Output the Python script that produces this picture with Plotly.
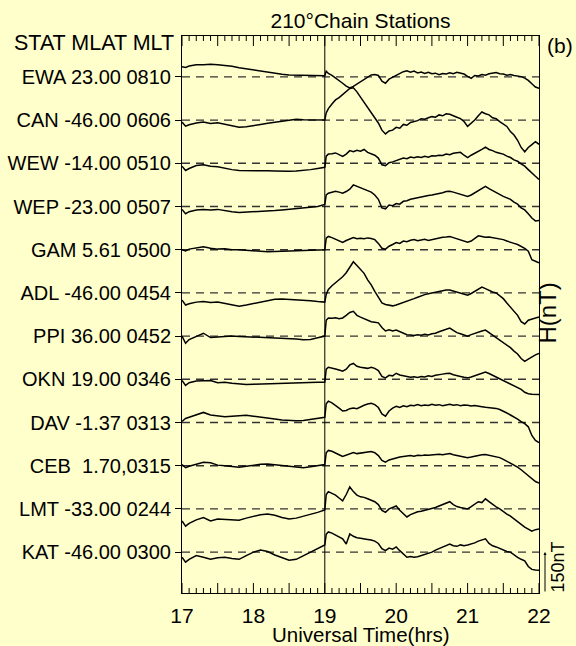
import plotly.graph_objects as go

# ---------------- data (H perturbation in nT, relative to each station's baseline) -------------
stations = ["EWA", "CAN", "WEW", "WEP", "GAM", "ADL", "PPI", "OKN", "DAV", "CEB", "LMT", "KAT"]
labels = ["EWA 23.00 0810", "CAN -46.00 0606", "WEW -14.00 0510", "WEP -23.00 0507",
          "GAM 5.61 0500", "ADL -46.00 0454", "PPI 36.00 0452", "OKN 19.00 0346",
          "DAV -1.37 0313", "CEB  1.70,0315", "LMT -33.00 0244", "KAT -46.00 0300"]
offset_step = 150  # nT between station baselines

# sampling times (UT hours), shared by all stations
t_ut = [17.0, 17.05, 17.1, 17.2, 17.3, 17.4, 17.5, 17.6, 17.7, 17.8, 17.9,
        18.0, 18.1, 18.2, 18.3, 18.4, 18.5, 18.6, 18.7, 18.8, 18.9,
        19.0, 19.02, 19.05, 19.1, 19.15, 19.2, 19.25, 19.3, 19.35, 19.4, 19.45, 19.5, 19.55, 19.6,
        19.65, 19.7, 19.75, 19.8, 19.85, 19.9, 19.95,
        20.0, 20.05, 20.1, 20.15, 20.2, 20.25, 20.3, 20.35, 20.4, 20.45, 20.5, 20.55, 20.6, 20.65,
        20.7, 20.75, 20.8, 20.85, 20.9, 20.95,
        21.0, 21.05, 21.1, 21.15, 21.2, 21.25, 21.3, 21.35, 21.4, 21.45, 21.5, 21.55, 21.6, 21.65,
        21.7, 21.75, 21.8, 21.85, 21.9, 21.95,
        22.0]

h_EWA = ([35, 33, 38, 42, 42, 44, 42, 40, 37, 32, 28, 24, 20, 16, 12, 9, 7, 6, 5, 5, 4]
         + [4, 20, 12, 5, -3, -12, -22, -32, -38, -33, -25, -18, -8, 0, 7, 8, 5, -15, -22, -8, -2]
         + [5, 12, 18, 21, 16, 20, 14, 17, 12, 16, 11, 13, 8, 12, 10, 14, 11, 16, 13, 10]
         + [2, -5, 5, 3, 8, 6, 11, 13, 15, 11, 10, 6, 8, 5, 3, 1, -4, -12, -24, -35]
         + [-40])
h_CAN = ([-7, -21, -16, -10, -7, -12, -9, -15, -20, -25, -23, -20, -15, -11, -7, -4, -1, 3, 1, 0, 0]
         + [0, 25, 40, 56, 70, 78, 88, 100, 110, 112, 98, 80, 62, 45, 28, 10, -10, -35, -48, -38, -35]
         + [-25, -28, -15, -18, -8, -5, -2, 5, 3, 8, 12, 10, 18, 15, 22, 20, 14, 10, 5, -5]
         + [-22, -12, 0, 15, 28, 22, 18, 8, 5, -5, -14, -22, -40, -52, -70, -95, -110, -95, -85, -75]
         + [-84])
h_WEW = ([-10, -25, -18, -8, -5, -10, -12, -18, -22, -25, -25, -24, -25, -26, -27, -28, -28, -27, -25, -22, -18]
         + [-14, 25, 32, 33, 36, 30, 24, 32, 44, 40, 45, 42, 48, 38, 32, 28, 18, -5, -8, 2, 5]
         + [10, 14, 18, 16, 22, 19, 23, 20, 24, 21, 26, 25, 28, 27, 32, 30, 35, 37, 38, 28]
         + [20, 28, 34, 40, 48, 56, 48, 44, 38, 35, 32, 25, 20, 12, 7, -2, -10, -22, -32, -45]
         + [-56])
h_WEP = ([-10, -25, -18, -12, -10, -12, -10, -15, -18, -21, -20, -18, -18, -16, -14, -12, -10, -8, -5, -3, 0]
         + [7, 40, 46, 50, 53, 50, 46, 52, 60, 75, 70, 63, 58, 55, 50, 40, 25, -5, -8, 5, 3]
         + [10, 8, 18, 20, 25, 28, 30, 33, 35, 38, 40, 42, 45, 48, 52, 53, 50, 46, 42, 38]
         + [35, 40, 48, 53, 62, 70, 62, 55, 49, 42, 35, 30, 25, 15, 8, -5, -12, -25, -40, -50]
         + [-49])
h_GAM = ([0, -4, 2, 6, 10, 5, 2, 3, 0, 0, -2, -4, -5, -7, -6, -5, -4, -4, -3, -2, -1]
         + [0, 40, 46, 42, 36, 30, 25, 32, 38, 42, 38, 40, 38, 41, 39, 35, 22, 5, 2, 12, 18]
         + [25, 22, 30, 28, 33, 35, 31, 34, 36, 32, 35, 36, 40, 43, 44, 46, 42, 38, 35, 30]
         + [26, 30, 38, 48, 46, 43, 44, 42, 40, 38, 35, 30, 27, 22, 18, 12, 5, -5, -35, -40]
         + [-46])
h_ADL = ([-25, -42, -38, -32, -30, -33, -32, -36, -40, -46, -42, -37, -30, -26, -22, -21, -22, -24, -25, -27, -30]
         + [-32, -5, 12, 25, 35, 45, 56, 70, 90, 108, 95, 80, 68, 45, 28, 5, -15, -35, -40, -42, -45]
         + [-42, -38, -32, -28, -24, -20, -15, -10, -6, -3, 0, 3, 6, 8, 10, 10, 6, 2, -2, -6]
         + [-8, -2, 5, 12, 20, 15, 8, 3, 0, -10, -20, -35, -50, -62, -78, -100, -108, -95, -92, -88]
         + [-84])
h_PPI = ([0, -25, -12, 0, 10, -5, -3, -2, 0, -1, -2, -3, -4, -4, -5, -6, -7, -10, -13, -12, -6]
         + [0, 55, 63, 62, 64, 60, 63, 72, 82, 86, 72, 66, 60, 55, 50, 48, 46, 30, 18, 22, 18]
         + [21, 15, 10, 5, 4, 2, 5, 3, 6, 4, 8, 10, 15, 20, 25, 28, 20, 12, 8, 4]
         + [0, 5, 10, 14, 18, 21, 12, 5, -5, -14, -21, -30, -40, -52, -62, -78, -88, -80, -72, -65]
         + [-60])
h_OKN = ([-4, -21, -12, -6, -5, -4, -12, -10, -14, -16, -18, -17, -16, -15, -14, -14, -13, -12, -12, -11, -10]
         + [-10, 35, 42, 40, 36, 32, 28, 35, 50, 55, 45, 42, 40, 38, 42, 38, 30, 10, 5, 14, 12]
         + [21, 15, 12, 8, 7, 9, 6, 10, 8, 12, 10, 14, 15, 18, 20, 21, 16, 12, 10, 7]
         + [5, 8, 12, 18, 22, 25, 20, 14, 8, 2, -4, -10, -15, -22, -28, -35, -45, -50, -52, -53]
         + [-53])
h_DAV = ([4, 14, 18, 26, 35, 26, 22, 20, 22, 24, 25, 22, 18, 15, 12, 9, 7, 6, 7, 10, 14]
         + [18, 65, 74, 68, 60, 50, 40, 42, 48, 50, 48, 55, 60, 64, 67, 62, 52, 30, 22, 40, 50]
         + [56, 52, 58, 55, 60, 58, 62, 58, 61, 59, 63, 60, 62, 58, 61, 63, 60, 62, 58, 61]
         + [60, 57, 59, 56, 55, 53, 52, 50, 49, 45, 40, 33, 26, 20, 12, 3, -4, -15, -45, -62]
         + [-70])
h_CEB = ([4, -7, -2, 5, 12, 10, 2, 0, -3, -5, -2, 2, 5, 6, 3, 0, -3, -6, -7, -4, 0]
         + [4, 45, 53, 50, 45, 38, 32, 36, 42, 46, 42, 44, 46, 48, 49, 45, 35, 18, 12, 20, 24]
         + [28, 30, 32, 34, 35, 33, 36, 35, 37, 36, 38, 39, 40, 38, 41, 42, 38, 35, 33, 30]
         + [28, 30, 33, 36, 38, 39, 36, 34, 32, 28, 22, 15, 10, 4, -5, -14, -24, -35, -45, -55]
         + [-60])
h_LMT = ([-42, -60, -50, -38, -30, -42, -35, -36, -38, -39, -32, -25, -20, -18, -22, -30, -35, -32, -26, -20, -12]
         + [-4, 50, 60, 55, 48, 38, 28, 50, 76, 60, 48, 42, 40, 35, 30, 25, 15, -5, -12, 0, 5]
         + [10, -5, -18, -28, -20, -15, -10, -8, -5, -2, 0, 5, 10, 15, 20, 25, 15, 8, 5, 2]
         + [0, 8, 15, 25, 22, 35, 25, 15, 7, 0, -10, -18, -25, -35, -45, -55, -63, -70, -77, -72]
         + [-70])
h_KAT = ([-18, -35, -25, -12, -18, -25, -20, -18, -22, -25, -12, 0, 7, 2, -10, -20, -28, -25, -12, 0, 12]
         + [25, 62, 70, 66, 60, 52, 46, 28, 63, 55, 50, 48, 45, 44, 42, 38, 30, 12, 5, 14, 10]
         + [18, 5, -8, -18, -15, -18, -16, -12, -8, -4, 0, 7, 12, 18, 24, 28, 22, 20, 25, 22]
         + [25, 28, 32, 38, 42, 46, 30, 22, 18, 12, 8, 2, 0, -10, -18, -25, -30, -50, -60, -62]
         + [-63])

onset_time = 19.0
x_range = [17, 22]
scale_bar_nT = 150

# ---------------- figure -------------
series_h = [h_EWA, h_CAN, h_WEW, h_WEP, h_GAM, h_ADL, h_PPI, h_OKN, h_DAV, h_CEB, h_LMT, h_KAT]
for s in series_h:
    assert len(s) == len(t_ut), len(s)
n = len(stations)
baselines = [(n - 1 - i) * offset_step for i in range(n)]

FONT = "Liberation Sans, Arial, sans-serif"
BG = "#FFFFCC"
W, H = 576, 646
M_L, M_R, M_T, M_B = 182, 37, 36, 53

ymin = -142
ymax = baselines[0] + 142
px_per_nT = (H - M_T - M_B) / (ymax - ymin)

fig = go.Figure()
for i in range(n):
    b = baselines[i]
    fig.add_trace(go.Scatter(x=x_range, y=[b, b], mode="lines",
                             line=dict(color="#333333", width=1.4, dash="8px,6px"),
                             hoverinfo="skip", showlegend=False))
for i in range(n):
    b = baselines[i]
    fig.add_trace(go.Scatter(x=t_ut, y=[b + v for v in series_h[i]], mode="lines",
                             line=dict(color="black", width=1.5), name=stations[i],
                             showlegend=False))

# inward-pointing time ticks on the bottom and top of the frame
# (every 0.1 h, longer every 0.5 h), drawn as one line trace
tick_x, tick_y = [], []
n_minor = int(round((x_range[1] - x_range[0]) * 10))
for k in range(n_minor + 1):
    xv = x_range[0] + k / 10
    length = (10 if k % 5 == 0 else 5) / px_per_nT
    tick_x += [xv, xv, None, xv, xv, None]
    tick_y += [ymin, ymin + length, None, ymax, ymax - length, None]
fig.add_trace(go.Scatter(x=tick_x, y=tick_y, mode="lines", line=dict(color="black", width=1),
                         hoverinfo="skip", showlegend=False, connectgaps=False))

fig.add_shape(type="line", xref="x", yref="paper", x0=onset_time, x1=onset_time, y0=0, y1=1,
              line=dict(color="black", width=1))

fig.update_layout(
    width=W, height=H,
    margin=dict(l=M_L, r=M_R, t=M_T, b=M_B, autoexpand=False),
    paper_bgcolor=BG, plot_bgcolor=BG,
    font=dict(family=FONT, size=21, color="black"),
    title=dict(text="210°Chain Stations", x=0.5, xref="paper", xanchor="center",
               y=1, yref="paper", yanchor="bottom", pad=dict(b=8),
               font=dict(size=21)),
    xaxis=dict(range=x_range, tickmode="linear", tick0=17, dtick=1, ticks="",
               showline=True, linecolor="black", linewidth=1, mirror=True,
               showgrid=False, zeroline=False, automargin=False, ticklabelstandoff=4,
               tickfont=dict(size=21)),
    yaxis=dict(range=[ymin, ymax], tickmode="array", tickvals=baselines, ticktext=labels,
               ticks="outside", ticklen=6, tickwidth=1, tickcolor="black",
               showline=True, linecolor="black", linewidth=1, mirror=True, automargin=False,
               showgrid=False, zeroline=False, tickfont=dict(size=20)),
)

fig.add_annotation(text="Universal Time(hrs)", xref="paper", yref="paper", x=0.5, y=0,
                   xanchor="center", yanchor="middle", yshift=-41, showarrow=False,
                   font=dict(size=20.5))
fig.add_annotation(text="STAT MLAT MLT", xref="paper", yref="paper", x=0, y=0.987,
                   xanchor="right", yanchor="middle", xshift=-6, showarrow=False,
                   font=dict(size=21.5))
fig.add_annotation(text="(b)", xref="paper", yref="paper", x=1, y=1,
                   xanchor="left", yanchor="top", xshift=6, yshift=4, showarrow=False,
                   font=dict(size=21))
fig.add_annotation(text="H(nT)", xref="paper", yref="paper", x=1, y=1 - (313 - 36) / 557,
                   xanchor="left", yanchor="middle", xshift=-8, textangle=-90, showarrow=False,
                   font=dict(size=24))
fig.add_annotation(text="150nT", xref="paper", yref="paper", x=1, y=0,
                   xanchor="left", yanchor="bottom", xshift=6, yshift=-2, textangle=-90,
                   showarrow=False, font=dict(size=18))
fig.add_annotation(x=1, xref="paper", y=0, yref="y", ax=0, axref="pixel", ay=ymin, ayref="y",
                   xshift=6, showarrow=True, arrowhead=2, arrowsize=0.6, arrowwidth=1,
                   arrowcolor="black", text="")

fig.write_html("out.html", config={"displayModeBar": False},
               post_script="document.body.style.margin='0px';")
